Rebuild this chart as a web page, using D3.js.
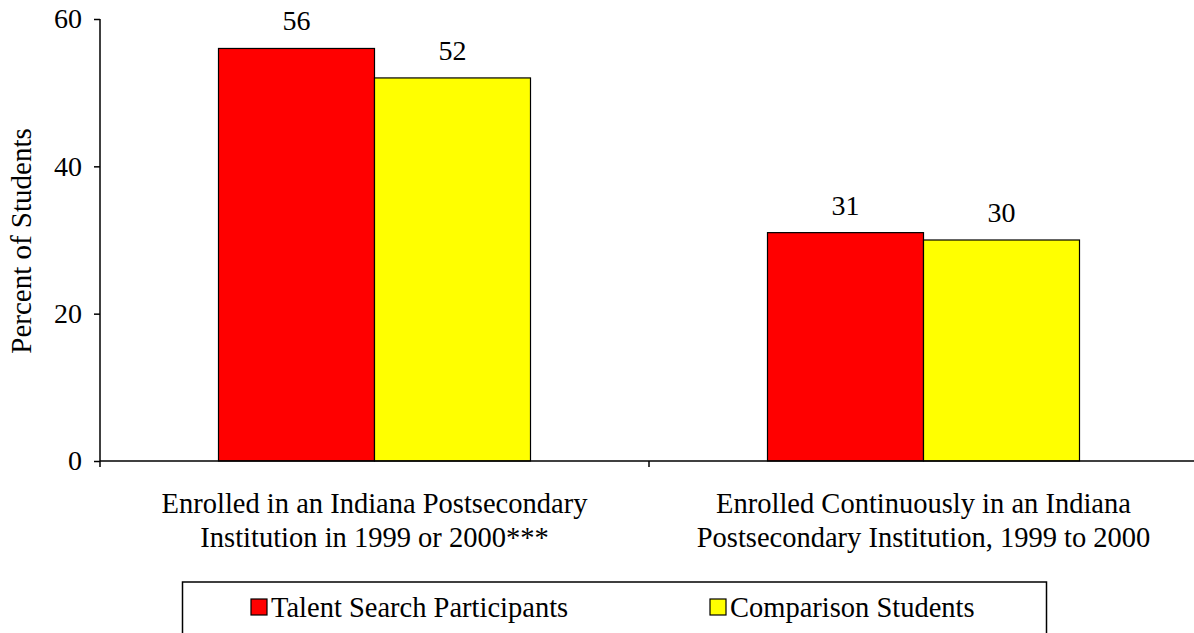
<!DOCTYPE html>
<html>
<script src="https://d3js.org/d3.v7.min.js"></script>
<style>
	body { margin: 0; background: #fff; }
	svg text { fill: #000; }
</style>
<body>
	<svg id="chart"></svg>
</body>
<script type="text/javascript">

	// data
	let categories = [
		["Enrolled in an Indiana Postsecondary", "Institution in 1999 or 2000***"],
		["Enrolled Continuously in an Indiana", "Postsecondary Institution, 1999 to 2000"]
	]
	let seriesNames = ["Talent Search Participants", "Comparison Students"]
	let talentValues = [56, 31]
	let comparisonValues = [52, 30]
	let yTicks = [0, 20, 40, 60]

	// sizes
	let width = 1194
	let height = 633
	let plotLeft = 100
	let plotRight = 1198
	let plotTop = 19
	let plotBottom = 461
	let fontSize = 28
	let serifFont = "'Liberation Serif', Tinos, 'Times New Roman', Times, 'DejaVu Serif', serif"

	let colours = ["#ff0000", "#ffff00"]

	let chart = d3.select("#chart")
		.attr("width", width)
		.attr("height", height)

	let rows = categories.map(function(c, i){
		return { key: i, label: c, values: [talentValues[i], comparisonValues[i]] }
	})

	let yScale = d3.scaleLinear()
		.domain([0, 60])
		.range([plotBottom, plotTop])

	let x0 = d3.scaleBand()
		.domain(rows.map(function(d){ return d.key }))
		.range([plotLeft, plotRight])

	let groupPad = 118.5
	let x1 = d3.scaleBand()
		.domain([0, 1])
		.range([groupPad, x0.bandwidth() - groupPad])

	// bars
	let groups = chart.selectAll("g.group")
		.data(rows)
		.enter().append("g")
		.attr("class", "group")
		.attr("transform", function(d){ return "translate(" + x0(d.key) + ",0)" })

	groups.selectAll("rect")
		.data(function(d){ return d.values })
		.enter().append("rect")
		.attr("x", function(d, i){ return x1(i) })
		.attr("y", function(d){ return yScale(d) })
		.attr("width", x1.bandwidth())
		.attr("height", function(d){ return plotBottom - yScale(d) })
		.style("fill", function(d, i){ return colours[i] })
		.style("stroke", "#000")
		.style("stroke-width", 1.2)

	groups.selectAll("text.value")
		.data(function(d){ return d.values })
		.enter().append("text")
		.attr("class", "value")
		.attr("x", function(d, i){ return x1(i) + x1.bandwidth() / 2 })
		.attr("y", function(d){ return yScale(d) - 18 })
		.attr("text-anchor", "middle")
		.style("font-size", fontSize + "px")
		.text(function(d){ return d })

	// y axis
	let yAxis = d3.axisLeft(yScale)
		.tickValues(yTicks)
		.tickSize(6)
		.tickPadding(12)

	let yAxisGlyph = chart.append("g")
		.attr("transform", "translate(" + plotLeft + ",0)")
		.call(yAxis)
		.attr("font-family", null)
	yAxisGlyph.select(".domain").attr("d", "M0," + plotTop + "V" + plotBottom)

	// x axis, ticks at the category boundaries
	let boundaries = [plotLeft, x0(1), plotRight]
	let xAxisGlyph = chart.append("g")
	xAxisGlyph.append("line")
		.attr("x1", plotLeft).attr("x2", width)
		.attr("y1", plotBottom).attr("y2", plotBottom)
	xAxisGlyph.selectAll("line.tick")
		.data(boundaries)
		.enter().append("line")
		.attr("class", "tick")
		.attr("x1", function(d){ return d }).attr("x2", function(d){ return d })
		.attr("y1", plotBottom).attr("y2", plotBottom + 6)

	chart.selectAll("g line, g path.domain")
		.style("stroke", "#000")
		.style("stroke-width", 1.5)
	yAxisGlyph.selectAll("text")
		.style("font-size", fontSize + "px")
		.attr("fill", "#000")

	// category labels
	let catLabels = chart.selectAll("text.cat")
		.data(rows)
		.enter().append("text")
		.attr("class", "cat")
		.attr("text-anchor", "middle")
		.style("font-size", "28.5px")
	catLabels.selectAll("tspan")
		.data(function(d){ return d.label.map(function(l){ return { l: l, x: x0(d.key) + x0.bandwidth() / 2 } }) })
		.enter().append("tspan")
		.attr("x", function(d){ return d.x })
		.attr("y", function(d, i){ return 513 + i * 34 })
		.text(function(d){ return d.l })

	// y title
	chart.append("text")
		.attr("transform", "translate(31,241) rotate(-90)")
		.attr("text-anchor", "middle")
		.style("font-size", "29px")
		.text("Percent of Students")

	// legend
	let legend = chart.append("g")
	legend.append("rect")
		.attr("x", 182.5).attr("y", 582)
		.attr("width", 864).attr("height", 80)
		.style("fill", "none")
		.style("stroke", "#000")
		.style("stroke-width", 1.5)

	let legendX = [251, 710]
	let items = legend.selectAll("g.item")
		.data(seriesNames)
		.enter().append("g")
		.attr("class", "item")
		.attr("transform", function(d, i){ return "translate(" + legendX[i] + ",599)" })
	items.append("rect")
		.attr("width", 16).attr("height", 16)
		.style("fill", function(d, i){ return colours[i] })
		.style("stroke", "#000")
		.style("stroke-width", 1.2)
	items.append("text")
		.attr("x", 20).attr("y", 18)
		.style("font-size", "28.5px")
		.text(function(d){ return d })

	chart.selectAll("text").style("font-family", serifFont)

</script>
</html>
